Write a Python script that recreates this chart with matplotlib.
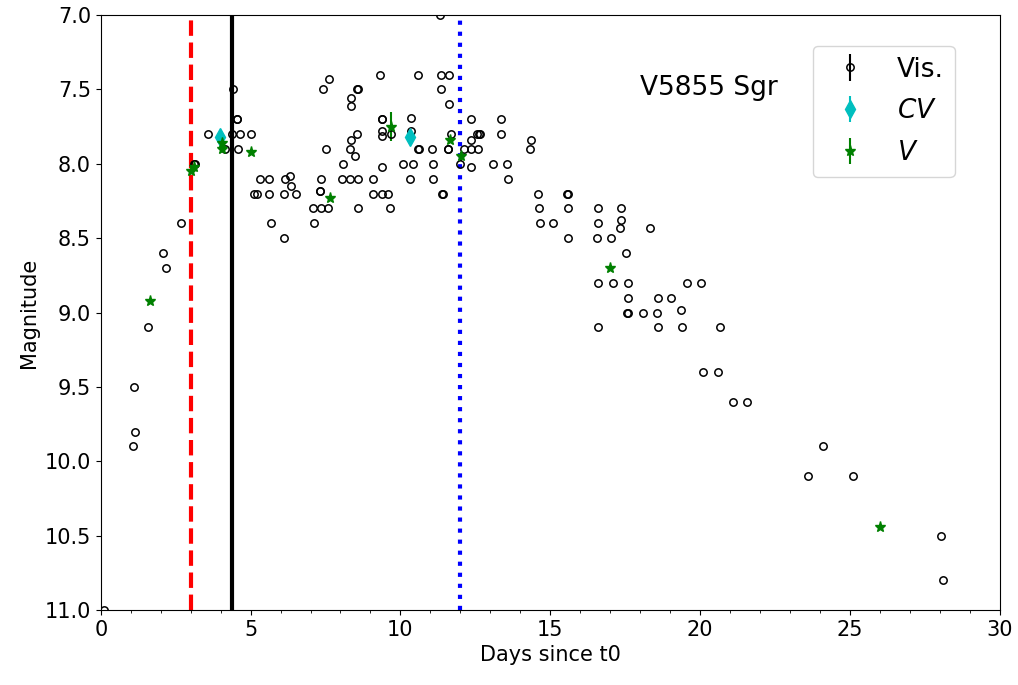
import matplotlib
matplotlib.use("Agg")
import matplotlib.pyplot as plt
from matplotlib.ticker import MultipleLocator

# --- Visual estimates (days since t0, magnitude) ---
vis_t = [0.1, 1.07, 1.1, 1.15, 1.59, 2.06, 2.17, 2.68, 3.1, 3.13, 3.58, 4.14,
         4.39, 4.41, 4.53, 4.55, 4.58, 4.64, 5.02, 5.1, 5.2, 5.33, 5.6, 5.6,
         5.67, 6.1, 6.1, 6.14, 6.33, 6.36, 6.53, 7.08, 7.11, 7.3, 7.33, 7.36,
         7.36, 7.42, 7.53, 7.57, 7.62, 8.06, 8.07, 8.33, 8.33, 8.35, 8.35, 8.36,
         8.49, 8.55, 8.55, 8.6, 8.6, 8.6, 9.07, 9.1, 9.33, 9.37, 9.37, 9.37,
         9.4, 9.37, 9.37, 9.57, 9.65, 9.7, 10.08, 10.32, 10.37, 10.37, 10.42,
         10.59, 10.59, 10.62, 11.04, 11.08, 11.1, 11.33, 11.36, 11.36, 11.39,
         11.42, 11.58, 11.6, 11.62, 11.62, 11.69, 12.0, 12.12, 12.34, 12.34,
         12.34, 12.37, 12.54, 12.6, 12.61, 12.67, 13.1, 13.36, 13.36, 13.56,
         13.59, 14.33, 14.36, 14.59, 14.62, 14.66, 15.1, 15.56, 15.59, 15.59,
         15.59, 16.56, 16.58, 16.58, 16.58, 16.58, 17.04, 17.11, 17.33, 17.37,
         17.37, 17.54, 17.55, 17.58, 17.58, 17.6, 18.1, 18.33, 18.58, 18.59,
         18.6, 19.03, 19.37, 19.39, 19.56, 20.03, 20.1, 20.59, 20.65, 21.1,
         21.56, 23.59, 24.1, 25.1, 28.04, 28.1]
vis_m = [11.0, 9.9, 9.5, 9.8, 9.1, 8.6, 8.7, 8.4, 8.0, 8.0, 7.8, 7.9,
         7.8, 7.5, 7.7, 7.7, 7.9, 7.8, 7.8, 8.2, 8.2, 8.1, 8.1, 8.2,
         8.4, 8.2, 8.5, 8.1, 8.08, 8.15, 8.2, 8.3, 8.4, 8.18, 8.18, 8.1,
         8.3, 7.5, 7.9, 8.3, 7.43, 8.1, 8.0, 7.9, 8.1, 7.56, 7.61, 7.84,
         7.95, 7.5, 7.8, 8.1, 8.3, 7.5, 8.1, 8.2, 7.4, 7.7, 7.78, 7.81,
         7.7, 8.02, 8.2, 8.2, 8.3, 7.8, 8.0, 8.1, 7.69, 7.78, 8.0,
         7.4, 7.9, 7.9, 7.9, 8.0, 8.1, 7.0, 7.4, 7.5, 8.2,
         8.2, 7.9, 7.9, 7.4, 7.6, 7.8, 8.0, 7.9, 7.7, 7.9,
         8.02, 7.84, 7.8, 7.9, 7.8, 7.8, 8.0, 7.7, 7.8, 8.0,
         8.1, 7.9, 7.84, 8.2, 8.3, 8.4, 8.4, 8.2, 8.2, 8.3,
         8.5, 8.5, 8.3, 8.4, 8.8, 9.1, 8.5, 8.8, 8.43, 8.3,
         8.38, 8.6, 9.0, 8.8, 8.9, 9.0, 9.0, 8.43, 9.0, 8.9,
         9.1, 8.9, 8.98, 9.1, 8.8, 8.8, 9.4, 9.4, 9.1, 9.6,
         9.6, 10.1, 9.9, 10.1, 10.5, 10.8]

# --- CV photometry ---
cv_t = [3.99, 10.32]
cv_m = [7.82, 7.82]
cv_err = [0.03, 0.03]

# --- V photometry ---
v_t = [1.63, 3.0, 3.1, 4.03, 4.03, 5.03, 7.64, 9.68, 11.66, 12.01, 17.0, 26.0]
v_m = [8.92, 8.05, 8.02, 7.86, 7.9, 7.92, 8.23, 7.75, 7.84, 7.95, 8.7, 10.44]
v_err = [0.01, 0.01, 0.01, 0.02, 0.01, 0.01, 0.01, 0.1, 0.02, 0.03, 0.01, 0.01]

# --- Reference epochs ---
t_red = 3.0
t_black = 4.38
t_blue = 12.0

fig = plt.figure(figsize=(10.18, 6.85), dpi=100)
ax = fig.add_axes([0.099, 0.1095, 0.883, 0.8685])

ax.errorbar(vis_t, vis_m, yerr=[0.0] * len(vis_t), fmt='o', mfc='none',
            mec='k', ecolor='k', ms=5.3, mew=1.1, label='Vis.')
ax.errorbar(cv_t, cv_m, yerr=cv_err, fmt='d', color='c', ms=9, label='$CV$')
ax.errorbar(v_t, v_m, yerr=v_err, fmt='*', color='g', ms=8, label='$V$')

ax.axvline(t_red, color='red', ls='--', lw=3)
ax.axvline(t_black, color='k', ls='-', lw=3)
ax.axvline(t_blue, color='blue', ls=':', lw=3)

ax.set_xlim(0, 30)
ax.set_ylim(11.0, 7.0)
ax.xaxis.set_minor_locator(MultipleLocator(1))
ax.tick_params(labelsize=15)
ax.set_xlabel('Days since t0', fontsize=15)
ax.set_ylabel('Magnitude', fontsize=15)

ax.text(0.60, 0.877, 'V5855 Sgr', transform=ax.transAxes, fontsize=19,
        va='center')
ax.legend(loc='upper right', bbox_to_anchor=(0.95, 0.948), fontsize=19,
          labelspacing=0.6, borderaxespad=0)

fig.savefig('out.png')
